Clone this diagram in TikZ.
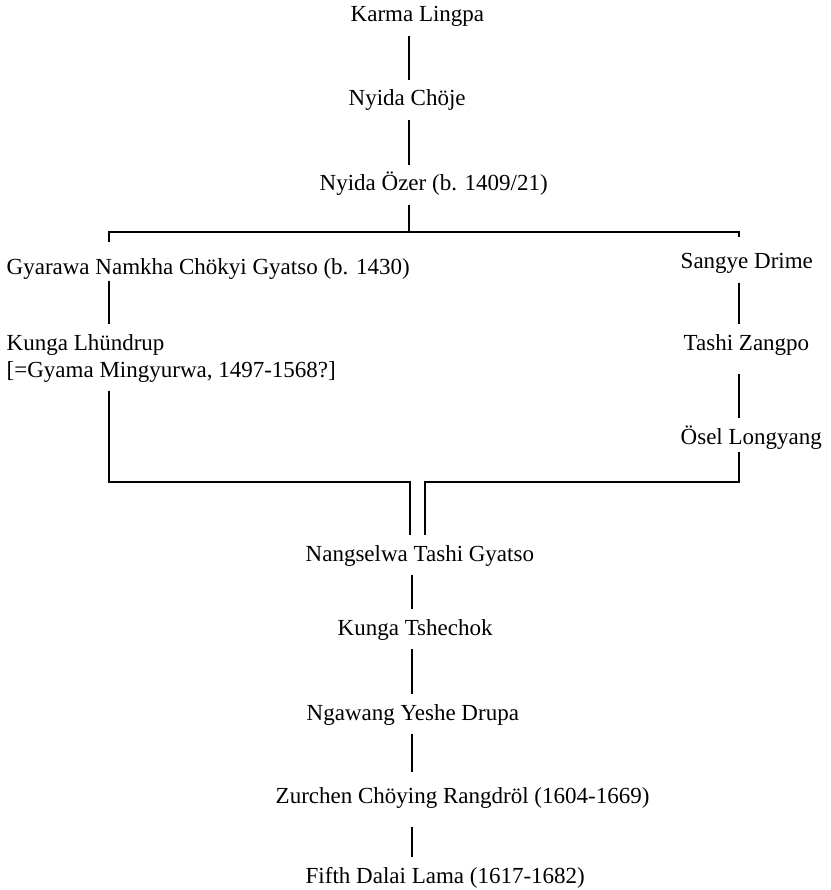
\documentclass[tikz,border=0pt]{standalone}
\usepackage{fontspec}
\setmainfont{Liberation Serif}
\begin{document}
\begin{tikzpicture}[x=1pt,y=-1pt,line width=1.4pt,
  person/.style={anchor=base west,inner sep=0pt,text height=25pt,text depth=13pt,
    font=\fontsize{23}{27}\selectfont},
  link/.style={draw}]
\useasboundingbox (0,0) rectangle (830,890);

% names in the lineage
\node[person] (karma)    at (350,22)  {Karma Lingpa};
\node[person] (choje)    at (348,106) {Nyida Chöje};
\node[person] (ozer)     at (319,191) {Nyida Özer (b. 1409/21)};
\node[person] (gyarawa)  at (6,275)   {Gyarawa Namkha Chökyi Gyatso (b. 1430)};
\node[person,text depth=40pt] (kunga) at (6,350)
  {\begin{tabular}[t]{@{}l@{}}Kunga Lhündrup\\{}[=Gyama Mingyurwa, 1497-1568?]\end{tabular}};
\node[person] (sangye)   at (680,269) {Sangye Drime};
\node[person] (tashi)    at (683,350) {Tashi Zangpo};
\node[person] (osel)     at (680,444) {Ösel Longyang};
\node[person] (nangsel)  at (305,561) {Nangselwa Tashi Gyatso};
\node[person] (tshechok) at (337,635) {Kunga Tshechok};
\node[person] (ngawang)  at (306,720) {Ngawang Yeshe Drupa};
\node[person] (zurchen)  at (275,803) {Zurchen Chöying Rangdröl (1604-1669)};
\node[person] (fifth)    at (305,883) {Fifth Dalai Lama (1617-1682)};

% line positions
\coordinate (trunk)  at (409,0);
\coordinate (leftx)  at (109,0);
\coordinate (rightx) at (739,0);
\coordinate (lower)  at (412,0);
\coordinate (forkL)  at (109,232);
\coordinate (forkR)  at (739,232);
\coordinate (fork)   at (409,232);
\coordinate (joinL)  at (109,482);
\coordinate (joinR)  at (739,482);
\coordinate (mergeL) at (410,482);
\coordinate (mergeR) at (425,482);

% upper trunk
\draw (karma.south -| trunk) -- (choje.north -| trunk);
\draw (choje.south -| trunk) -- (ozer.north -| trunk);
\draw (ozer.south -| trunk) -- (fork);

% the fork into two branches
\draw[shorten <=7pt,shorten >=6pt] (gyarawa.north -| leftx) -- (forkL) -- (forkR) -- (sangye.north -| rightx);

% left branch
\draw[shorten <=-8pt] (gyarawa.south -| leftx) -- (kunga.north -| leftx);
\draw (kunga.south -| leftx) -- (joinL) -- (mergeL) -- (nangsel.north -| mergeL);

% right branch
\draw (sangye.south -| rightx) -- (tashi.north -| rightx);
\draw[shorten <=10pt] (tashi.south -| rightx) -- (osel.north -| rightx);
\draw[shorten <=-6pt] (osel.south -| rightx) -- (joinR) -- (mergeR) -- (nangsel.north -| mergeR);

% lower trunk
\draw (nangsel.south -| lower) -- (tshechok.north -| lower);
\draw (tshechok.south -| lower) -- (ngawang.north -| lower);
\draw[shorten >=5pt] (ngawang.south -| lower) -- (zurchen.north -| lower);
\draw[shorten <=10pt] (zurchen.south -| lower) -- (fifth.north -| lower);
\end{tikzpicture}
\end{document}
